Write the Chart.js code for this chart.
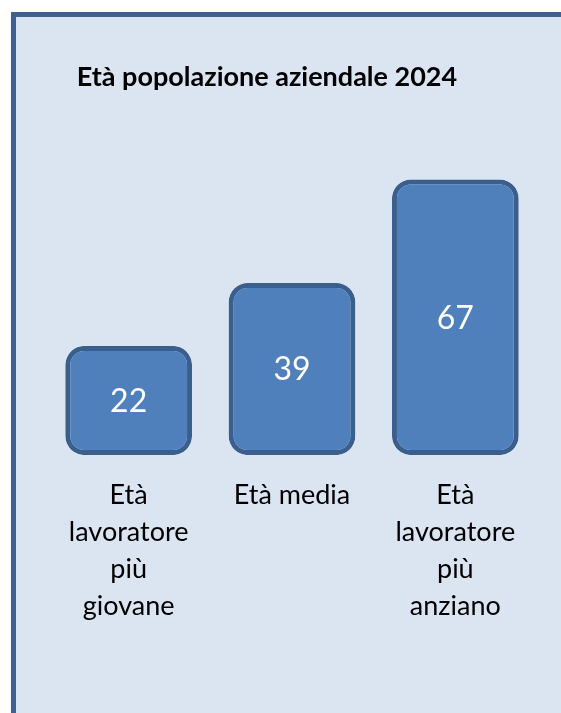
<!DOCTYPE html>
<html>
<head>
<meta charset="utf-8">
<script src="https://cdn.jsdelivr.net/npm/chart.js@4.4.1/dist/chart.umd.min.js"></script>
<style>
    body { margin: 0; background: #ffffff; overflow: hidden; }
    #panel {
        position: absolute; left: 11px; top: 12px;
        width: 600px; height: 760px;
        background: #dbe5f1;
        border-left: 5px solid #3d6190;
        border-top: 5px solid #3d6190;
    }
    #ageChart { position: absolute; left: 0; top: 0; }
</style>
</head>
<body>
<div id="panel"></div>
<canvas id="ageChart" width="561" height="713"></canvas>
<script>
// Chart data
var chartTitle = 'Età popolazione aziendale 2024';
var categories = [
    ['Età', 'lavoratore', 'più', 'giovane'],
    'Età media',
    ['Età', 'lavoratore', 'più', 'anziano']
];
var ages = [22, 39, 67];
var axisMin = -7.5; // value axis does not start at zero in the original
var axisMax = 80;

// Draws the value inside every bar
var valueLabels = {
    id: 'valueLabels',
    afterDatasetsDraw: function(chart) {
        var ctx = chart.ctx;
        var meta = chart.getDatasetMeta(0);
        ctx.save();
        ctx.fillStyle = '#ffffff';
        ctx.font = '32px Lato';
        ctx.textAlign = 'center';
        ctx.textBaseline = 'middle';
        meta.data.forEach(function(bar, i) {
            ctx.fillText(ages[i], bar.x, (bar.y + bar.base) / 2 + 1);
        });
        ctx.restore();
    }
};

// The title sits a bit left of the plot centre
var shiftTitle = {
    id: 'shiftTitle',
    afterLayout: function(chart) {
        chart.titleBlock.left -= 25;
        chart.titleBlock.right -= 25;
    }
};

var ctx = document.getElementById('ageChart').getContext('2d');
var ageChart = new Chart(ctx, {
    type: 'bar',
    data: {
        labels: categories,
        datasets: [{
            data: ages,
            base: axisMin,
            backgroundColor: '#4f80bc',
            borderColor: '#3b5f8d',
            borderWidth: 5,
            borderRadius: 19,
            borderSkipped: false,
            barPercentage: 0.776,
            categoryPercentage: 1
        }]
    },
    options: {
        responsive: false,
        animation: false,
        layout: {
            padding: { left: 47, right: 24, top: 0, bottom: 66 }
        },
        plugins: {
            legend: { display: false },
            tooltip: { enabled: false },
            title: {
                display: true,
                text: chartTitle,
                color: '#000000',
                font: { family: 'Lato', size: 27, weight: 'bold', lineHeight: 1.2 },
                padding: { top: 61, bottom: 38 }
            }
        },
        scales: {
            x: {
                grid: { display: false, drawTicks: false },
                border: { display: false },
                ticks: {
                    color: '#000000',
                    font: { family: 'Lato', size: 27, lineHeight: 1.37 },
                    padding: 22,
                    maxRotation: 0,
                    autoSkip: false
                }
            },
            y: {
                display: false,
                min: axisMin,
                max: axisMax
            }
        }
    },
    plugins: [valueLabels, shiftTitle]
});
</script>
</body>
</html>
